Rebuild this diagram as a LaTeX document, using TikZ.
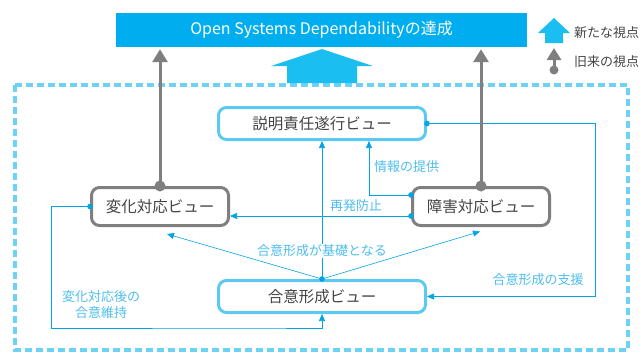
\documentclass[tikz,border=0pt]{standalone}
\usepackage{fontspec}
\setmainfont{Noto Sans CJK JP}
\usetikzlibrary{arrows.meta}

\definecolor{osdblue}{HTML}{00AEEF}
\definecolor{arrowblue}{HTML}{1ABEF0}
\definecolor{framblue}{HTML}{6DD2F6}
\definecolor{boxblue}{HTML}{5CC9F3}
\definecolor{linkblue}{HTML}{00A3E6}
\definecolor{labblue}{HTML}{4DBEEE}
\definecolor{oldgray}{HTML}{7F7F7F}
\definecolor{textgray}{HTML}{444444}

\tikzset{
	viewbox/.style={rounded corners=8pt,line width=3pt,minimum height=32pt,
		text=textgray,font=\fontsize{15.5}{17}\selectfont,inner sep=0pt},
	bluebox/.style={viewbox,draw=boxblue,minimum width=207pt},
	graybox/.style={viewbox,draw=oldgray,minimum width=137pt,minimum height=38pt},
	link/.style={draw=linkblue,semithick,-{Triangle[length=7pt,width=6pt]}},
	lab/.style={text=labblue,font=\fontsize{13}{15.5}\selectfont,inner sep=1pt,align=center},
	oldview/.style={draw=oldgray,line width=3pt,-{Triangle[length=13pt,width=15pt]}},
}

\begin{document}
\begin{tikzpicture}[x=1pt,y=-1pt]
	\useasboundingbox (0,0) rectangle (644,354);

	%frame
	\draw[framblue,line width=4pt,dash pattern=on 7pt off 4pt] (15,85) rectangle (628,350);

	%goal and big arrow
	\node[fill=osdblue,minimum width=411pt,minimum height=34pt,text=white,
		font=\fontsize{16}{18}\selectfont] (bar) at (321.5,29.5) {Open Systems Dependabilityの達成};
	\fill[arrowblue] (322,49)--(373,66)--(357,66)--(357,83)--(287,83)--(287,66)--(271,66)--cycle;

	%views
	\node[bluebox] (acct)   at (322,123.5) {説明責任遂行ビュー};
	\node[graybox] (change) at (160,206.5) {変化対応ビュー};
	\node[graybox] (fail)   at (481,206.5) {障害対応ビュー};
	\node[bluebox] (cons)   at (322,296.5) {合意形成ビュー};

	%links
	\draw[link] (acct.east) -- ++(168,0) |- (cons.east);					%support
	\draw[link] ([yshift=11.5pt]fail.west) -| ([xshift=47pt]acct.south);	%information
	\draw[link] ([yshift=-9.5pt]fail.west) -- ([yshift=-9.5pt]change.east);	%prevention
	\draw[link] (change.west) -- ++(-39,0) |- (251,328) -| (cons.south);	%maintain
	\draw[link] (cons.north) -- ([xshift=7pt,yshift=-7pt]change.south);
	\draw[link] (cons.north) -- ([xshift=-1pt,yshift=-4.5pt]fail.south);
	\draw[link] (cons.north) -- (acct.south);
	\foreach \p in {acct.east,change.west,cons.north}
		\fill[linkblue] (\p) circle (2.8pt);
	\fill[linkblue] ([yshift=11.5pt]fail.west) circle (2.8pt);
	\fill[linkblue] ([yshift=-9.5pt]fail.west) circle (2.8pt);

	%link labels
	\node[lab] (support) at (538,280) {合意形成の支援};
	\node[lab,anchor=west] (info) at (373,167) {情報の提供};
	\node[lab] (prevent) at (356,206) {再発防止};
	\node[lab,fill=white,inner sep=0.5pt] (basis) at (322,251) {合意形成が基礎となる};
	\node[lab] (keep) at (101,304.5) {変化対応後の\\合意維持};

	%old views
	\draw[oldview,shorten >=2.5pt] (change.north) -- (change.north |- bar.south);
	\draw[oldview,shorten >=2.5pt] (fail.north) -- (fail.north |- bar.south);
	\fill[oldgray] (change.north) circle (5.5pt);
	\fill[oldgray] (fail.north) circle (5.5pt);

	%legend
	\fill[arrowblue] (554,18)--(570,33)--(563,33)--(563,43)--(545,43)--(545,33)--(538,33)--cycle;
	\draw[oldview,-{Triangle[length=12pt,width=14pt]}] (554,70) -- (554,48);
	\fill[oldgray] (554,70) circle (4.5pt);
	\node[anchor=west,text=textgray,font=\fontsize{13}{15}\selectfont,inner sep=0pt] (newleg) at (574,32.5) {新たな視点};
	\node[anchor=west,text=textgray,font=\fontsize{13}{15}\selectfont,inner sep=0pt] (oldleg) at (574,62) {旧来の視点};
\end{tikzpicture}
\end{document}
